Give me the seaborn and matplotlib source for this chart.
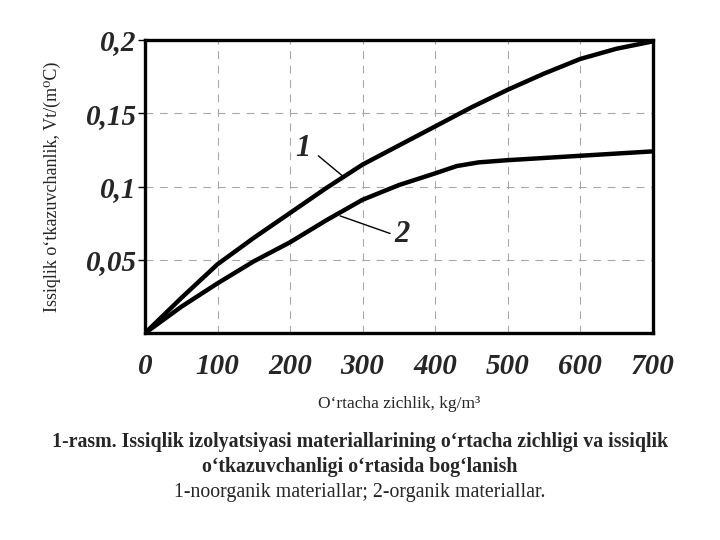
import numpy as np
import pandas as pd
import matplotlib
matplotlib.use("Agg")
import matplotlib.pyplot as plt
import seaborn as sns

# values
density = [0, 50, 100, 150, 200, 250, 300, 350, 400, 450, 500, 550, 600, 650, 700]
inorganic = [0, 0.024, 0.047, 0.065, 0.082, 0.099, 0.115, 0.128, 0.141, 0.154, 0.166, 0.177, 0.187, 0.194, 0.199]
organic_x = [0, 50, 100, 150, 200, 250, 300, 350, 400, 430, 460, 500, 600, 700]
organic = [0, 0.018, 0.034, 0.049, 0.062, 0.077, 0.091, 0.101, 0.109, 0.114, 0.1165, 0.118, 0.121, 0.124]

xticks = [0, 100, 200, 300, 400, 500, 600, 700]
yticks = [0.05, 0.1, 0.15, 0.2]
ytick_labels = ["0,05", "0,1", "0,15", "0,2"]

df = pd.concat([
    pd.DataFrame({"x": density, "y": inorganic, "s": "1"}),
    pd.DataFrame({"x": organic_x, "y": organic, "s": "2"}),
])

sns.set_style("white")
plt.rcParams["font.family"] = ["Liberation Serif", "DejaVu Serif"]

fig = plt.figure(figsize=(7.2, 5.4), dpi=100)
ax = fig.add_axes([0.2014, 0.383, 0.705, 0.543])

sns.lineplot(data=df, x="x", y="y", hue="s", palette=["black", "black"],
             linewidth=3.2, legend=False, ax=ax, sort=False)

ax.set_xlim(0, 700)
ax.set_ylim(0, 0.2)
ax.set_xticks(xticks)
ax.set_xticklabels([str(t) for t in xticks])
ax.set_yticks(yticks)
ax.set_yticklabels(ytick_labels)
for lab in ax.get_xticklabels() + ax.get_yticklabels():
    lab.set_fontsize(21)
    lab.set_fontweight("bold")
    lab.set_fontstyle("italic")
ax.tick_params(axis="x", length=0, pad=14)
ax.tick_params(axis="y", length=5, width=1, direction="out", pad=1, color="black", left=True)

ax.grid(True, color="#a8a8a8", linestyle=(0, (7, 6)), linewidth=0.8)
for sp in ax.spines.values():
    sp.set_visible(True)
    sp.set_color("black")
    sp.set_linewidth(2.4)

ax.set_xlabel("O‘rtacha zichlik, kg/m³", fontsize=12.5, labelpad=12)
ax.set_ylabel("Issiqlik o‘tkazuvchanlik, Vt/(m⁰C)", fontsize=13, labelpad=18)

# curve labels with leader lines
ax.text(218, 0.126, "1", fontsize=22, fontweight="bold", fontstyle="italic", ha="center", va="center")
ax.plot([239, 273], [0.121, 0.107], color="black", lw=1)
ax.text(355, 0.067, "2", fontsize=22, fontweight="bold", fontstyle="italic", ha="center", va="center")
ax.plot([269, 338], [0.080, 0.068], color="black", lw=1)

fig.text(0.5, 0.181, "1-rasm. Issiqlik izolyatsiyasi materiallarining o‘rtacha zichligi va issiqlik",
         ha="center", va="center", fontsize=14.3, fontweight="bold")
fig.text(0.5, 0.136, "o‘tkazuvchanligi o‘rtasida bog‘lanish",
         ha="center", va="center", fontsize=14.3, fontweight="bold")
fig.text(0.5, 0.088, "1-noorganik materiallar; 2-organik materiallar.",
         ha="center", va="center", fontsize=14.3)

fig.savefig("out.png", dpi=100)
